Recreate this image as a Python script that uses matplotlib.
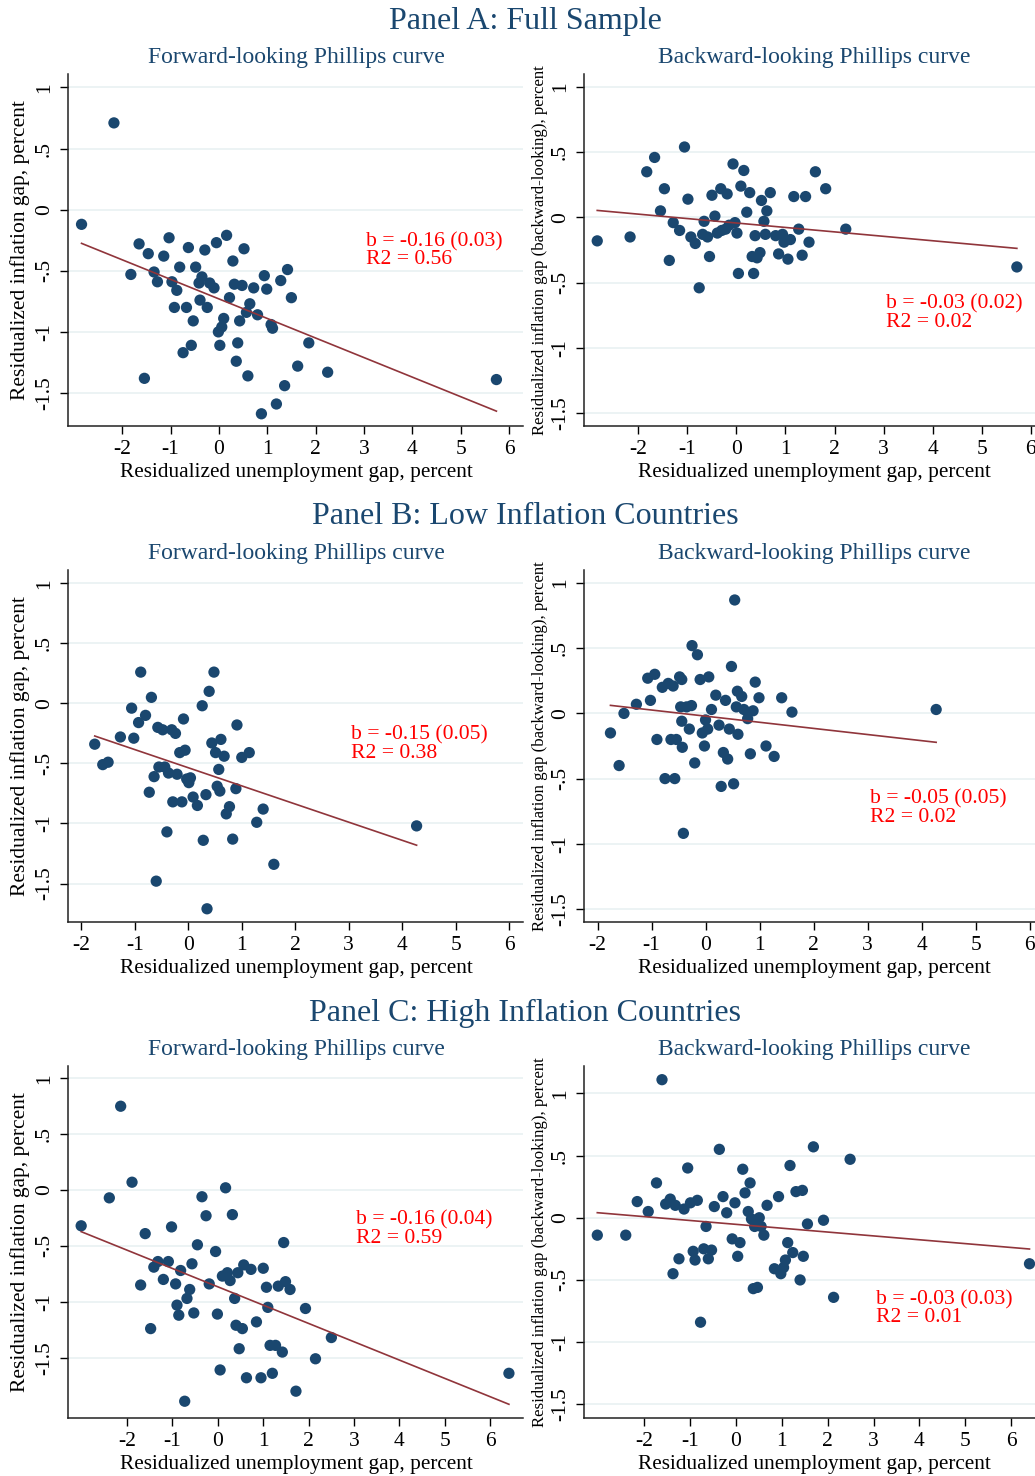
# libraries
import matplotlib
matplotlib.use("Agg")
import matplotlib.pyplot as plt
import numpy as np

# output size in pixels
W, H = 1035, 1476
DPI = 100

# colours (stata s2color look)
NAVY = "#1a476f"
MAROON = "#90353b"
GRID = "#eaf2f3"

plt.rcParams["font.family"] = ["Liberation Serif", "DejaVu Serif"]

# panel A, forward-looking
a_fwd_x = [-2.84, -2.17, -1.65, -1.82, -1.46, -1.34, -1.27, -1.54, -1.14, -1.03,
           -0.97, -0.87, -0.81, -0.92, -0.67, -0.63, -0.53, -0.57, -0.74, -0.48,
           -0.35, -0.41, -0.39, -0.29, -0.24, -0.19, -0.10, -0.05, 0.16, -0.01,
           0.06, 0.10, 0.02, 0.22, 0.29, 0.32, 0.48, 0.52, 0.43, 0.39,
           0.36, 0.60, 0.64, 0.57, 0.72, 0.80, 0.94, 0.99, 1.08, 1.11,
           1.28, 1.42, 1.50, 0.88, 1.19, 1.36, 1.63, 1.86, 2.25, 5.74]
a_fwd_y = [-0.12, 0.71, -0.28, -0.53, -0.36, -0.51, -0.59, -1.38, -0.38, -0.23,
           -0.59, -0.66, -0.47, -0.80, -0.80, -0.31, -0.91, -1.11, -1.17, -0.47,
           -0.55, -0.60, -0.74, -0.33, -0.80, -0.60, -0.64, -0.27, -0.21, -1.00,
           -0.96, -0.89, -1.11, -0.72, -0.42, -0.61, -0.62, -0.32, -0.91, -1.09,
           -1.24, -1.36, -0.77, -0.84, -0.64, -0.86, -0.54, -0.65, -0.94, -0.97,
           -0.58, -0.49, -0.72, -1.67, -1.59, -1.44, -1.28, -1.09, -1.33, -1.39]

# panel A, backward-looking
a_bwd_x = [-2.84, -2.17, -1.83, -1.67, -1.47, -1.55, -1.37, -1.29, -1.16, -1.06,
           -0.99, -0.93, -0.84, -0.76, -0.66, -0.69, -0.59, -0.55, -0.50, -0.44,
           -0.39, -0.32, -0.19, -0.30, -0.22, -0.15, -0.07, -0.03, 0.01, 0.04,
           0.15, 0.09, 0.27, 0.21, 0.32, 0.35, 0.38, 0.42, 0.48, 0.51,
           0.62, 0.56, 0.59, 0.69, 0.80, 0.86, 0.94, 0.97, 1.10, 1.05,
           1.17, 1.27, 1.41, 1.34, 1.48, 1.61, 1.82, 2.23, 5.72]
a_bwd_y = [-0.18, -0.15, 0.35, 0.46, 0.22, 0.05, -0.33, -0.04, -0.10, 0.54,
           0.14, -0.15, -0.20, -0.54, -0.03, -0.13, -0.15, -0.30, 0.17, 0.01,
           -0.12, 0.22, 0.18, -0.10, -0.09, -0.06, 0.41, -0.04, -0.12, -0.43,
           0.36, 0.24, 0.19, 0.04, -0.30, -0.43, -0.14, -0.31, -0.27, 0.13,
           0.05, -0.03, -0.13, 0.19, -0.14, -0.28, -0.13, -0.19, -0.17, -0.32,
           0.16, -0.09, 0.16, -0.29, -0.19, 0.35, 0.22, -0.09, -0.38]

# panel B, forward-looking
b_fwd_x = [-1.75, -1.60, -1.50, -1.27, -1.06, -1.02, -0.93, -0.89, -0.80, -0.69,
           -0.73, -0.64, -0.60, -0.57, -0.48, -0.55, -0.44, -0.37, -0.40, -0.31,
           -0.24, -0.21, -0.29, -0.12, -0.16, -0.06, -0.09, -0.03, 0.01, 0.04,
           0.09, 0.17, 0.26, 0.28, 0.33, 0.35, 0.39, 0.44, 0.48, 0.51,
           0.57, 0.54, 0.59, 0.61, 0.67, 0.71, 0.77, 0.83, 0.89, 0.91,
           1.00, 1.14, 1.28, 1.40, 1.60, 4.27]
b_fwd_y = [-0.34, -0.51, -0.49, -0.28, -0.04, -0.29, -0.16, 0.26, -0.10, 0.05,
           -0.74, -0.61, -1.48, -0.20, -0.22, -0.53, -0.53, -0.58, -1.07, -0.22,
           -0.25, -0.59, -0.82, -0.82, -0.41, -0.39, -0.13, -0.63, -0.66, -0.62,
           -0.78, -0.85, -0.02, -1.14, -0.76, -1.71, 0.10, -0.33, 0.26, -0.41,
           -0.55, -0.69, -0.73, -0.30, -0.44, -0.92, -0.86, -1.13, -0.71, -0.18,
           -0.45, -0.41, -0.99, -0.88, -1.34, -1.02]

# panel B, backward-looking
b_bwd_x = [-1.76, -1.60, -1.51, -1.28, -1.07, -0.94, -1.02, -0.90, -0.80, -0.69,
           -0.60, -0.75, -0.57, -0.64, -0.54, -0.48, -0.44, -0.46, -0.44, -0.43,
           -0.41, -0.35, -0.26, -0.30, -0.25, -0.20, -0.15, -0.10, -0.06, -0.02,
           0.00, 0.04, 0.06, 0.11, 0.19, 0.25, 0.29, 0.33, 0.37, 0.41,
           0.44, 0.48, 0.52, 0.54, 0.57, 0.59, 0.60, 0.67, 0.71, 0.78,
           0.83, 0.88, 0.92, 0.99, 1.12, 1.27, 1.41, 1.60, 4.27]
b_bwd_y = [-0.15, -0.40, 0.00, 0.07, 0.27, 0.30, 0.10, -0.20, 0.20, 0.23,
           0.21, -0.50, -0.50, -0.20, -0.20, 0.28, 0.26, 0.05, -0.06, -0.26,
           -0.92, 0.05, 0.06, -0.12, 0.52, -0.38, 0.45, 0.26, -0.15, -0.25,
           -0.05, -0.12, 0.28, 0.03, 0.14, -0.09, -0.56, -0.30, 0.10, -0.35,
           -0.12, 0.36, -0.54, 0.87, 0.05, 0.17, -0.16, 0.13, 0.03, -0.04,
           -0.31, 0.02, 0.24, 0.12, -0.25, -0.33, 0.12, 0.01, 0.03]

# panel C, forward-looking
c_fwd_x = [-3.01, -2.14, -2.39, -1.89, -1.60, -1.70, -1.48, -1.41, -1.32, -1.20,
           -1.09, -1.02, -0.93, -0.90, -0.86, -0.82, -0.73, -0.68, -0.62, -0.57,
           -0.53, -0.45, -0.35, -0.26, -0.19, -0.05, -0.01, 0.05, 0.10, 0.17,
           0.21, 0.27, 0.32, 0.37, 0.40, 0.44, 0.47, 0.54, 0.57, 0.63,
           0.73, 0.85, 0.95, 1.00, 1.07, 1.10, 1.15, 1.20, 1.27, 1.33,
           1.42, 1.45, 1.49, 1.59, 1.72, 1.93, 2.15, 2.50, 6.41]
c_fwd_y = [-0.32, 0.75, -0.07, 0.07, -0.39, -0.85, -1.24, -0.69, -0.64, -0.80,
           -0.64, -0.33, -0.84, -1.03, -1.12, -0.72, -1.89, -0.97, -0.89, -0.66,
           -1.10, -0.49, -0.06, -0.23, -0.84, -0.55, -1.11, -1.61, -0.77, 0.02,
           -0.74, -0.81, -0.22, -0.97, -1.21, -0.74, -1.42, -1.24, -0.67, -1.68,
           -0.71, -1.18, -1.68, -0.70, -0.87, -1.05, -1.39, -1.64, -1.39, -0.86,
           -1.45, -0.47, -0.82, -0.89, -1.80, -1.06, -1.51, -1.32, -1.64]

# panel C, backward-looking
c_bwd_x = [-3.02, -2.40, -2.15, -1.91, -1.73, -1.61, -1.53, -1.43, -1.32, -1.37,
           -1.24, -1.13, -1.05, -0.99, -0.93, -0.89, -0.84, -0.77, -0.70, -0.65,
           -0.60, -0.53, -0.47, -0.36, -0.28, -0.20, -0.08, -0.02, 0.04, 0.09,
           0.15, 0.20, 0.27, 0.31, 0.34, 0.38, 0.41, 0.47, 0.51, 0.55,
           0.61, 0.68, 0.84, 0.93, 0.98, 1.04, 1.08, 1.13, 1.18, 1.24,
           1.31, 1.45, 1.40, 1.47, 1.56, 1.69, 1.91, 2.13, 2.49, 6.40]
c_bwd_y = [-0.14, -0.14, 0.13, 0.05, 0.28, 1.11, 0.11, 0.15, 0.10, -0.45,
           -0.33, 0.07, 0.40, 0.12, -0.27, -0.34, 0.14, -0.84, -0.25, -0.07,
           -0.33, -0.26, 0.09, 0.55, 0.17, 0.04, -0.17, 0.12, -0.31, -0.20,
           0.39, 0.20, 0.05, 0.28, -0.01, -0.57, -0.07, -0.56, 0.00, -0.07,
           -0.14, 0.10, -0.41, 0.17, -0.45, -0.40, -0.34, -0.20, 0.42, -0.28,
           0.21, 0.22, -0.50, -0.31, -0.05, 0.57, -0.02, -0.64, 0.47, -0.37]

# fitted lines (slope, intercept) and the printed stats
fit_slope = [-0.160, -0.034, -0.151, -0.047, -0.164, -0.031]
fit_const = [-0.730, -0.043, -0.536, -0.021, -0.866, -0.053]
stat_b = ["b = -0.16 (0.03)", "b = -0.03 (0.02)", "b = -0.15 (0.05)",
          "b = -0.05 (0.05)", "b = -0.16 (0.04)", "b = -0.03 (0.03)"]
stat_r2 = ["R2 = 0.56", "R2 = 0.02", "R2 = 0.38", "R2 = 0.02", "R2 = 0.59", "R2 = 0.01"]

panel_titles = ["Panel A: Full Sample", "Panel B: Low Inflation Countries",
                "Panel C: High Inflation Countries"]
sub_titles = ["Forward-looking Phillips curve", "Backward-looking Phillips curve"]
x_label = "Residualized unemployment gap, percent"
y_labels = ["Residualized inflation gap, percent",
            "Residualized inflation gap (backward-looking), percent"]
x_ticks = [-2, -1, 0, 1, 2, 3, 4, 5, 6]
y_ticks = [-1.5, -1, -0.5, 0, 0.5, 1]
y_tick_labels = ["-1.5", "-1", "-.5", "0", ".5", "1"]

# layout in pixels
ROW_TOP = [74, 570, 1066]
ROW_BOT = [426, 922, 1418]
COL_LEFT = [68, 584]
COL_RIGHT = [523, 1035]
XLIMS = [(-3.12, 6.29), (-3.11, 6.09), (-2.25, 6.26), (-2.25, 6.10), (-3.30, 6.72), (-3.31, 6.52)]
YLIMS = [(-1.77, 1.11), (-1.60, 1.10), (-1.82, 1.11), (-1.60, 1.10), (-2.04, 1.11), (-1.61, 1.22)]
# stats text positions (data coords)
TXT_Y = [(-0.26, -0.41), (-0.665, -0.805), (-0.265, -0.42), (-0.658, -0.80), (-0.265, -0.43), (-0.66, -0.80)]


def rect(left, top, right, bottom):
    return [left / W, 1 - bottom / H, (right - left) / W, (bottom - top) / H]


def fx(px):
    return px / W


def fy(px):
    return 1 - px / H


def main():
    fig = plt.figure(figsize=(W / DPI, H / DPI), dpi=DPI)
    xs_all = [a_fwd_x, a_bwd_x, b_fwd_x, b_bwd_x, c_fwd_x, c_bwd_x]
    ys_all = [a_fwd_y, a_bwd_y, b_fwd_y, b_bwd_y, c_fwd_y, c_bwd_y]

    for row in range(3):
        # big panel heading
        fig.text(fx(525), fy(ROW_TOP[row] - 53), panel_titles[row], ha="center", va="center",
                 fontsize=23, color=NAVY)
        for col in range(2):
            i = row * 2 + col
            ax = fig.add_axes(rect(COL_LEFT[col], ROW_TOP[row], COL_RIGHT[col], ROW_BOT[row]))
            x = np.array(xs_all[i])
            y = np.array(ys_all[i])

            # grid first, then marks
            for t in y_ticks:
                ax.axhline(t, color=GRID, lw=1.3, zorder=0)
            ax.scatter(x, y, s=66, color=NAVY, edgecolors="none", zorder=3)
            lx = np.array([x.min(), x.max()])
            ax.plot(lx, fit_const[i] + fit_slope[i] * lx, color=MAROON, lw=1.2, zorder=4)

            ax.text(3.05, TXT_Y[i][0], stat_b[i], color="red", fontsize=15.6, va="center")
            ax.text(3.05, TXT_Y[i][1], stat_r2[i], color="red", fontsize=15.6, va="center")

            ax.set_xlim(*XLIMS[i])
            ax.set_ylim(*YLIMS[i])
            ax.set_xticks(x_ticks)
            ax.set_xticklabels([str(t) for t in x_ticks])
            ax.set_yticks(y_ticks)
            ax.set_yticklabels(y_tick_labels, rotation=90, va="center")
            ax.tick_params(axis="both", labelsize=15.5, length=6, width=1, pad=4, colors="black")
            for s in ["top", "right"]:
                ax.spines[s].set_visible(False)
            for s in ["left", "bottom"]:
                ax.spines[s].set_linewidth(1.1)
                ax.spines[s].set_color("#222222")

            # sub title and axis labels
            cx = 296 if col == 0 else 814
            fig.text(fx(cx), fy(ROW_TOP[row] - 16), sub_titles[col], ha="center", va="center",
                     fontsize=17, color=NAVY)
            fig.text(fx(cx), fy(ROW_BOT[row] + 47), x_label, ha="center", va="center", fontsize=15.3)
            if col == 0:
                fig.text(fx(20), fy((ROW_TOP[row] + ROW_BOT[row]) / 2), y_labels[0], rotation=90,
                         ha="center", va="center", fontsize=15.5)
            else:
                fig.text(fx(540), fy((ROW_TOP[row] + ROW_BOT[row]) / 2), y_labels[1], rotation=90,
                         ha="center", va="center", fontsize=12.1)

    fig.savefig("out.png", dpi=DPI)


if __name__ == "__main__":
    main()
